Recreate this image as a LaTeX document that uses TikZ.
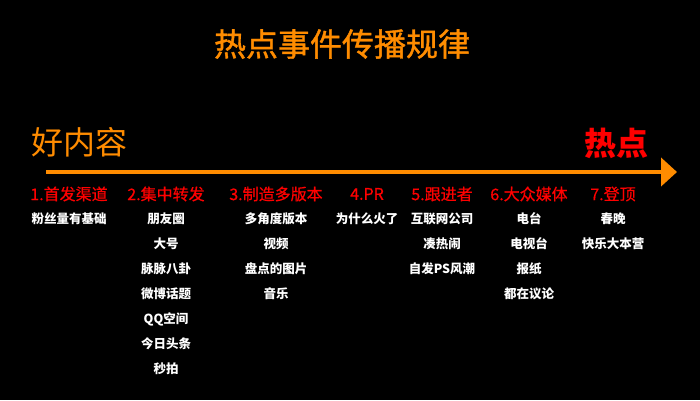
\documentclass[tikz,border=0pt]{standalone}
\usepackage{fontspec}
\setmainfont{Noto Sans CJK SC}
\usepackage{xcolor}
\usetikzlibrary{arrows.meta, positioning}
\definecolor{hotorange}{RGB}{255,140,0}
\definecolor{hotred}{RGB}{255,0,0}

\begin{document}
\begin{tikzpicture}[x=1pt, y=-1pt, node distance=25pt, on grid, title/.style={text=hotorange, inner sep=0pt, font=\fontsize{32}{32}\selectfont\addfontfeatures{FakeBold=1.2}}, stage/.style={text=hotred, inner sep=0pt, font=\fontsize{16}{16}\selectfont\addfontfeatures{FakeBold=0.6}}, item/.style={text=white, inner sep=0pt, font=\fontsize{12.5}{12.5}\selectfont\bfseries}]

            \fill[black] (0,0) rectangle (700,400);
            \useasboundingbox (0,0) rectangle (700,400);

            \node[title] (T) at (342,44) {热点事件传播规律};
            \node[text=hotorange, inner sep=0pt, font=\fontsize{32}{32}\selectfont] (good) at (79,142) {好内容};
            \node[text=hotred, inner sep=0pt, font=\fontsize{32}{32}\selectfont\bfseries] (hot) at (616,143) {热点};

            \coordinate (start) at (46,172);
            \coordinate (end) at (677,172);
            \draw[hotorange, line width=4pt, -{Triangle[width=28pt, length=16pt]}] (start) -- (end);

            \node[stage] (h1) at (69,194) {1.首发渠道};
            \node[item, below=of h1] (i11) {粉丝量有基础};

            \node[stage] (h2) at (166,194) {2.集中转发};
            \node[item, below=of h2] (i21) {朋友圈};
            \node[item, below=of i21] (i22) {大号};
            \node[item, below=of i22] (i23) {脉脉八卦};
            \node[item, below=of i23] (i24) {微博话题};
            \node[item, below=of i24] (i25) {QQ空间};
            \node[item, below=of i25] (i26) {今日头条};
            \node[item, below=of i26] (i27) {秒拍};

            \node[stage] (h3) at (276,194) {3.制造多版本};
            \node[item, below=of h3] (i31) {多角度版本};
            \node[item, below=of i31] (i32) {视频};
            \node[item, below=of i32] (i33) {盘点的图片};
            \node[item, below=of i33] (i34) {音乐};

            \node[stage] (h4) at (367,194) {4.PR};
            \node[item, below=of h4] (i41) {为什么火了};

            \node[stage] (h5) at (442,194) {5.跟进者};
            \node[item, below=of h5] (i51) {互联网公司};
            \node[item, below=of i51] (i52) {凑热闹};
            \node[item, below=of i52] (i53) {自发PS风潮};

            \node[stage] (h6) at (529,194) {6.大众媒体};
            \node[item, below=of h6] (i61) {电台};
            \node[item, below=of i61] (i62) {电视台};
            \node[item, below=of i62] (i63) {报纸};
            \node[item, below=of i63] (i64) {都在议论};

            \node[stage] (h7) at (613,194) {7.登顶};
            \node[item, below=of h7] (i71) {春晚};
            \node[item, below=of i71] (i72) {快乐大本营};

        \end{tikzpicture}
\end{document}
